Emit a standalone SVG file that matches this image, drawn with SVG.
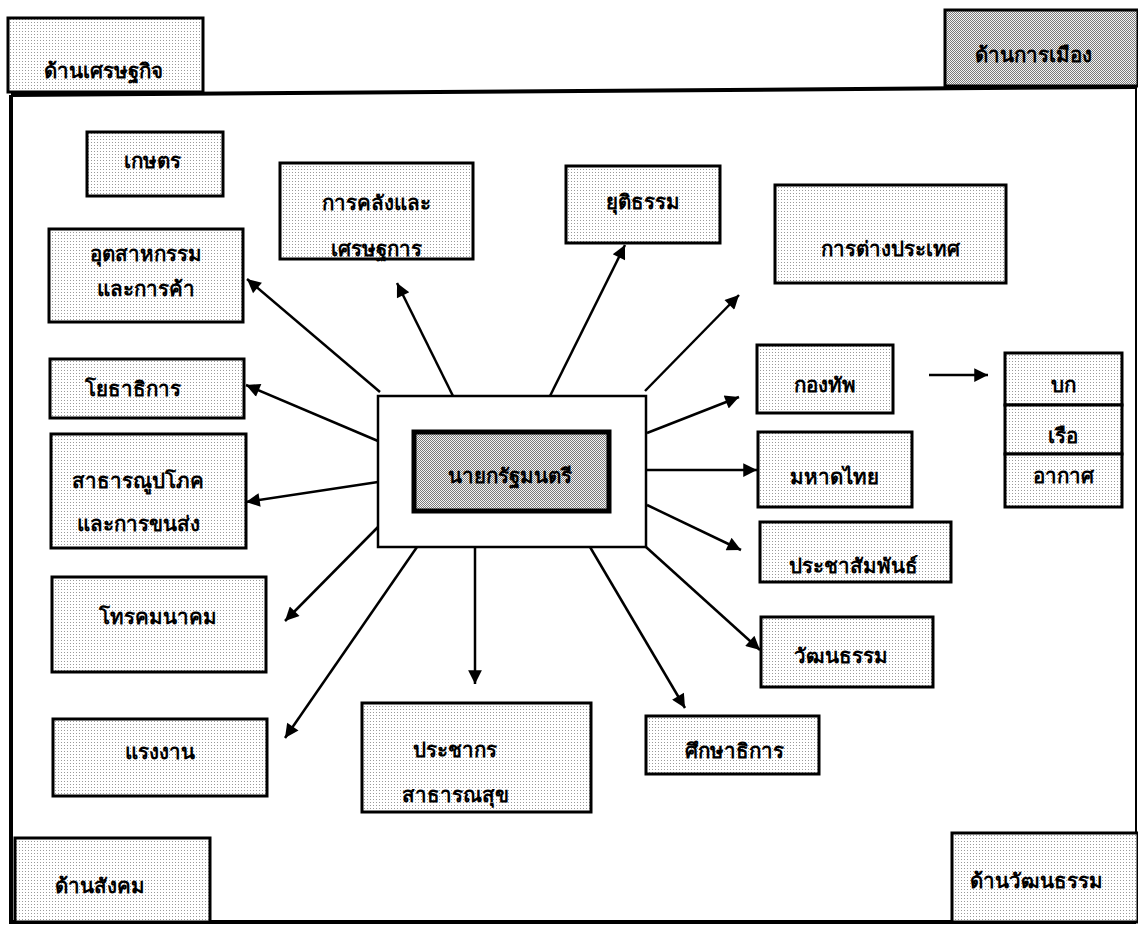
<svg xmlns="http://www.w3.org/2000/svg" width="1138" height="926" viewBox="0 0 1138 926">
<defs>
<pattern id="dots" width="3" height="3" patternUnits="userSpaceOnUse">
<rect width="3" height="3" fill="#ffffff"/>
<rect x="1" y="1" width="1" height="1" fill="#9a9a9a"/>
</pattern>
<pattern id="hatch" width="2" height="2" patternUnits="userSpaceOnUse">
<rect width="2" height="2" fill="#f4f4f4"/>
<rect x="0" y="0" width="1" height="1" fill="#7a7a7a"/>
<rect x="1" y="1" width="1" height="1" fill="#7a7a7a"/>
</pattern>
<marker id="arr" viewBox="0 0 10 10" refX="10" refY="5" markerWidth="7" markerHeight="5.5" markerUnits="strokeWidth" orient="auto">
<path d="M0,0 L10,5 L0,10 z" fill="#000"/>
</marker>
</defs>
<style>
.box{fill:url(#dots);stroke:#000;stroke-width:3}
.dark{fill:url(#hatch);stroke:#000;stroke-width:3}
.t{font-family:"Noto Sans","DejaVu Sans","Liberation Sans",sans-serif;font-weight:bold;font-size:20.5px;fill:#000;text-anchor:middle}
.c line{stroke:#000;stroke-width:2.5;marker-end:url(#arr)}
</style>
<rect width="1138" height="926" fill="#fff"/>
<g id="frame" fill="none" stroke="#000">
<path d="M11,95 L1136,87" stroke-width="4"/>
<path d="M11,95 L11,922 L1136,922" stroke-width="4"/>
<path d="M1136,87 L1136,922" stroke-width="2"/>
</g>
<g id="economy"><rect class="box" x="8" y="18" width="195" height="74"/><text class="t" x="103" y="78">ด้านเศรษฐกิจ</text></g>
<g id="politics"><rect class="dark" x="945" y="10" width="193" height="76"/><text class="t" x="1033" y="62">ด้านการเมือง</text></g>
<g id="society"><rect class="box" x="15" y="838" width="195" height="84"/><text class="t" x="100" y="893">ด้านสังคม</text></g>
<g id="culture-side"><rect class="box" x="952" y="833" width="186" height="89"/><text class="t" x="1036" y="888">ด้านวัฒนธรรม</text></g>

<g id="n-agri"><rect class="box" x="87" y="132" width="136" height="64"/><text class="t" x="152" y="168">เกษตร</text></g>
<g id="n-finance"><rect class="box" x="280" y="163" width="193" height="96"/><text class="t" x="376" y="210">การคลังและ</text><text class="t" x="376" y="256">เศรษฐการ</text></g>
<g id="n-justice"><rect class="box" x="566" y="166" width="154" height="77"/><text class="t" x="643" y="209">ยุติธรรม</text></g>
<g id="n-foreign"><rect class="box" x="775" y="185" width="231" height="98"/><text class="t" x="890" y="256">การต่างประเทศ</text></g>
<g id="n-industry"><rect class="box" x="49" y="229" width="194" height="93"/><text class="t" x="146" y="261">อุตสาหกรรม</text><text class="t" x="146" y="296">และการค้า</text></g>
<g id="n-public"><rect class="box" x="50" y="359" width="194" height="59"/><text class="t" x="133" y="396">โยธาธิการ</text></g>
<g id="n-utility"><rect class="box" x="51" y="434" width="195" height="114"/><text class="t" x="138" y="488">สาธารณูปโภค</text><text class="t" x="138" y="531">และการขนส่ง</text></g>
<g id="n-telecom"><rect class="box" x="52" y="577" width="214" height="95"/><text class="t" x="158" y="624">โทรคมนาคม</text></g>
<g id="n-labour"><rect class="box" x="53" y="719" width="214" height="77"/><text class="t" x="160" y="759">แรงงาน</text></g>
<g id="n-health"><rect class="box" x="362" y="703" width="229" height="109"/><text class="t" x="455" y="757">ประชากร</text><text class="t" x="455" y="802">สาธารณสุข</text></g>
<g id="n-edu"><rect class="box" x="646" y="716" width="173" height="58"/><text class="t" x="734" y="758">ศึกษาธิการ</text></g>
<g id="n-cultur"><rect class="box" x="761" y="617" width="172" height="70"/><text class="t" x="841" y="663">วัฒนธรรม</text></g>
<g id="n-pr"><rect class="box" x="760" y="522" width="191" height="60"/><text class="t" x="853" y="573">ประชาสัมพันธ์</text></g>
<g id="n-interior"><rect class="box" x="758" y="432" width="154" height="75"/><text class="t" x="834" y="484">มหาดไทย</text></g>
<g id="n-defence"><rect class="box" x="757" y="345" width="136" height="68"/><text class="t" x="825" y="392">กองทัพ</text></g>
<g id="n-forces">
<rect class="box" x="1005" y="353" width="117" height="52"/><text class="t" x="1063" y="392">บก</text>
<rect class="box" x="1005" y="405" width="117" height="49"/><text class="t" x="1063" y="443">เรือ</text>
<rect class="box" x="1005" y="454" width="117" height="53"/><text class="t" x="1063" y="483">อากาศ</text>
</g>
<g id="n-pm">
<rect x="378" y="396" width="268" height="151" fill="#fff" stroke="#000" stroke-width="2.5"/>
<rect x="414" y="432" width="195" height="79" fill="url(#hatch)" stroke="#000" stroke-width="5"/>
<text class="t" x="510" y="483">นายกรัฐมนตรี</text>
</g>
<g id="connectors" class="c">
<line x1="380" y1="392" x2="247" y2="279"/>
<line x1="453" y1="396" x2="397" y2="283"/>
<line x1="550" y1="396" x2="625" y2="245"/>
<line x1="645" y1="391" x2="739" y2="295"/>
<line x1="647" y1="433" x2="739" y2="397"/>
<line x1="647" y1="470" x2="757" y2="470"/>
<line x1="647" y1="505" x2="741" y2="550"/>
<line x1="646" y1="547" x2="760" y2="650"/>
<line x1="590" y1="547" x2="685" y2="708"/>
<line x1="475" y1="547" x2="475" y2="684"/>
<line x1="417" y1="547" x2="285" y2="738"/>
<line x1="378" y1="527" x2="285" y2="621"/>
<line x1="378" y1="482" x2="246" y2="502"/>
<line x1="378" y1="441" x2="246" y2="385"/>
<line x1="929" y1="375" x2="988" y2="375"/>
</g>
</svg>
